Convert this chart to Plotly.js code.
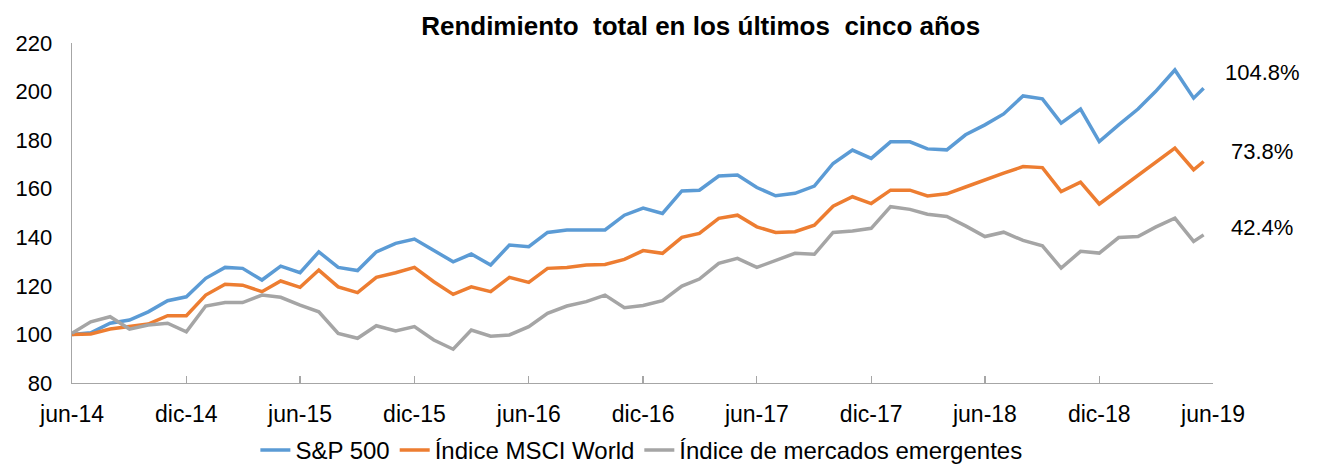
<!DOCTYPE html>
<html>
<head>
<meta charset="utf-8">
<script src="https://cdn.plot.ly/plotly-3.0.1.min.js"></script>
<style>html,body{margin:0;padding:0;background:#fff;}#chart{width:1317px;height:473px;}</style>
</head>
<body>
<div id="chart"></div>
<script>
// Monthly observation dates (first of each month, jun-2014 .. may-2019) plus last observation
const startYear = 2014, startMonth = 6, nMonths = 60;
const lastDate = '2019-05-17';

const sp500 = [100, 100.7, 104.6, 105.9, 109.3, 113.9, 115.5, 123.1, 127.6, 127.2,
  122.4, 128.1, 125.4, 134.0, 127.6, 126.3, 134.0, 137.5, 139.3, 134.4,
  129.9, 133.1, 128.6, 136.8, 136.1, 142.0, 143.0, 143.0, 143.0, 149.1,
  152.0, 149.8, 159.1, 159.4, 165.2, 165.6, 160.5, 157.1, 158.1, 161.1,
  170.4, 175.9, 172.5, 179.3, 179.3, 176.4, 176.0, 182.2, 186.3, 190.8,
  198.2, 197.0, 187.0, 192.8, 179.4, 186.3, 192.8, 200.0, 208.9, 197.3,
  201.4];
const msciWorld = [100, 100.2, 102.2, 103.2, 104.3, 107.7, 107.7, 116.2, 120.7, 120.3,
  117.6, 122.0, 119.4, 126.5, 119.6, 117.2, 123.5, 125.4, 127.6, 121.7,
  116.5, 119.6, 117.6, 123.5, 121.4, 127.2, 127.6, 128.6, 128.8, 130.9,
  134.5, 133.4, 140.0, 141.6, 147.8, 149.1, 144.3, 142.0, 142.3, 145.0,
  152.8, 156.7, 153.9, 159.4, 159.4, 157.0, 157.9, 160.7, 163.7, 166.4,
  169.1, 168.7, 158.8, 162.7, 153.7, 159.5, 165.3, 170.5, 176.7, 167.8,
  171.2];
const emergentes = [100.5, 105.2, 107.3, 102.2, 103.9, 104.6, 101.1, 111.7, 113.1, 113.1,
  116.2, 115.3, 112.1, 109.3, 100.4, 98.4, 103.6, 101.4, 103.2, 97.7,
  93.9, 101.8, 99.3, 99.8, 103.2, 108.7, 111.7, 113.5, 116.2, 111.0,
  111.9, 113.9, 119.9, 122.8, 129.3, 131.3, 127.6, 130.3, 133.4, 133.0,
  142.0, 142.6, 143.7, 152.6, 151.5, 149.5, 148.6, 144.7, 140.3, 142.1,
  138.7, 136.5, 127.3, 134.2, 133.5, 139.9, 140.3, 144.2, 147.9, 138.3,
  141.0];

const seriesNames = ['S&P 500', 'Índice MSCI World', 'Índice de mercados emergentes'];
const endLabels = ['104.8%', '73.8%', '42.4%'];
const endLabelY = [207.7, 175.2, 143.9];

const tickDates = ['2014-06-01','2014-12-01','2015-06-01','2015-12-01','2016-06-01','2016-12-01',
  '2017-06-01','2017-12-01','2018-06-01','2018-12-01','2019-06-01'];
const tickLabels = ['jun-14','dic-14','jun-15','dic-15','jun-16','dic-16',
  'jun-17','dic-17','jun-18','dic-18','jun-19'];
const yTicks = [80, 100, 120, 140, 160, 180, 200, 220];

const dates = [];
for (let i = 0; i < nMonths; i++) {
  const m = startMonth - 1 + i;
  const y = startYear + Math.floor(m / 12);
  const mm = (m % 12) + 1;
  dates.push(y + '-' + String(mm).padStart(2, '0') + '-01');
}
dates.push(lastDate);

const colors = ['#5B9BD5', '#ED7D31', '#A5A5A5'];
const values = [sp500, msciWorld, emergentes];
const FONT = 'Liberation Sans, Arial, sans-serif';

const traces = values.map((v, k) => ({
  x: dates, y: v, type: 'scatter', mode: 'lines', name: seriesNames[k],
  line: {color: colors[k], width: 3.5}
}));

const annotations = endLabels.map((t, k) => ({
  text: t, xref: 'paper', yref: 'y', x: 1.043, y: endLabelY[k],
  xanchor: 'center', yanchor: 'middle', showarrow: false,
  font: {family: FONT, size: 22, color: '#000'}
}));

const layout = {
  width: 1317, height: 473,
  margin: {l: 72, r: 104, t: 43, b: 90},
  paper_bgcolor: '#fff', plot_bgcolor: '#fff',
  title: {text: 'Rendimiento\u00a0 total en los últimos\u00a0 cinco años', x: 0.551, xref: 'paper', xanchor: 'center',
    y: 0.945, yanchor: 'middle', font: {family: FONT, size: 26, color: '#000', weight: 'bold'}},
  xaxis: {type: 'date', range: ['2014-06-01', '2019-06-01'], tickmode: 'array',
    tickvals: tickDates, ticktext: tickLabels, ticks: 'inside', ticklen: 7, tickcolor: '#A6A6A6', tickwidth: 1.3,
    showline: true, linecolor: '#A6A6A6', linewidth: 1.3, showgrid: false, zeroline: false,
    ticklabelstandoff: 10,
    tickfont: {family: FONT, size: 23, color: '#000'}},
  yaxis: {range: [80, 220], tickmode: 'array', tickvals: yTicks, ticks: '', showline: true,
    linecolor: '#A6A6A6', linewidth: 1.3, showgrid: false, zeroline: false, ticklabelstandoff: 14,
    tickfont: {family: FONT, size: 22, color: '#000'}},
  legend: {orientation: 'h', x: 0.487, xanchor: 'center', xref: 'container', y: -0.008, yanchor: 'bottom', yref: 'container',
    font: {family: FONT, size: 24, color: '#000'}, itemwidth: 30, tracegroupgap: 0},
  annotations: annotations,
  showlegend: true
};

Plotly.newPlot('chart', traces, layout, {displayModeBar: false, staticPlot: true});
</script>
</body>
</html>
